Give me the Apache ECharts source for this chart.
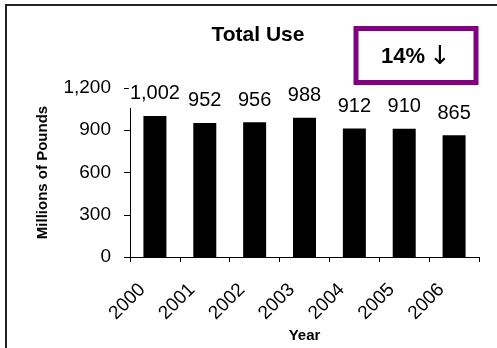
<!DOCTYPE html>
<html>
<head>
<meta charset="utf-8">
<script src="https://cdn.jsdelivr.net/npm/echarts@6/dist/echarts.min.js"></script>
<style>
html,body{margin:0;padding:0;background:#fff;}
#chart{width:497px;height:348px;}
</style>
</head>
<body>
<div id="chart"></div>
<script>
var years = ['2000', '2001', '2002', '2003', '2004', '2005', '2006'];
var totalUse = [1002, 952, 956, 988, 912, 910, 865];
var yTicks = [0, 300, 600, 900, 1200];
var titleText = 'Total Use';
var changePct = '14%';
var changeArrow = '\u2193';
var yName = 'Millions of Pounds';
var xName = 'Year';

var FONT = '"Liberation Sans", Arial, sans-serif';
var chart = echarts.init(document.getElementById('chart'), null, {renderer: 'canvas'});
chart.setOption({
  animation: false,
  backgroundColor: '#fff',
  title: {
    text: titleText, left: 253, top: 20, textAlign: 'center',
    textStyle: {fontFamily: FONT, fontSize: 21, fontWeight: 'bold', color: '#000'}
  },
  grid: {left: 130, right: 18, top: 88, bottom: 91},
  xAxis: {
    type: 'category', data: years,
    name: xName, nameLocation: 'middle', nameGap: 71,
    nameTextStyle: {fontFamily: FONT, fontSize: 15, fontWeight: 'bold', color: '#000'},
    axisLine: {lineStyle: {color: '#000', width: 1}},
    axisTick: {show: true, length: 5, alignWithLabel: false, lineStyle: {color: '#000'}},
    axisLabel: {rotate: 45, fontFamily: FONT, fontSize: 19, color: '#000', margin: 17, padding: [0, 18, 0, 0]}
  },
  yAxis: {
    type: 'value', min: 0, max: 1200, interval: 300,
    name: yName, nameLocation: 'middle', nameGap: 80, nameRotate: 90,
    nameTextStyle: {fontFamily: FONT, fontSize: 15, fontWeight: 'bold', color: '#000'},
    axisLine: {show: true, lineStyle: {color: '#000', width: 1}},
    axisTick: {show: true, length: 6, lineStyle: {color: '#000'}},
    splitLine: {show: false},
    axisLabel: {fontFamily: FONT, fontSize: 19, color: '#000', margin: 19,
      formatter: function (v) { return yTicks.indexOf(v) >= 0 ? v.toLocaleString('en-US') : ''; }}
  },
  series: [{
    type: 'bar', data: totalUse, barWidth: 23,
    itemStyle: {color: '#000'},
    label: {
      show: true, position: 'top', distance: 8,
      fontFamily: FONT, fontSize: 20, color: '#000',
      backgroundColor: '#fff', padding: [2, 1, 4, 1],
      formatter: function (p) { return p.value.toLocaleString('en-US'); }
    },
    z: 3
  }],
  graphic: [
    {type: 'line', shape: {x1: 6, y1: 5, x2: 6, y2: 348}, style: {stroke: '#222', lineWidth: 2}},
    {type: 'line', shape: {x1: 5, y1: 5, x2: 497, y2: 5}, style: {stroke: '#222', lineWidth: 2}},
    {type: 'rect', shape: {x: 356, y: 28.5, width: 120, height: 54}, style: {fill: '#fff', stroke: '#800080', lineWidth: 5}},
    {type: 'text', x: 416, y: 57, style: {
      text: '{a|' + changePct + '}{b|' + changeArrow + '}',
      align: 'center', verticalAlign: 'middle',
      rich: {
        a: {fontFamily: FONT, fontSize: 22, fontWeight: 'bold', fill: '#000', color: '#000', padding: [0, 4, 0, 0]},
        b: {fontFamily: '"DejaVu Sans"', fontSize: 26, fontWeight: 'normal', fill: '#000', color: '#000'}
      }
    }}
  ]
});
</script>
</body>
</html>
